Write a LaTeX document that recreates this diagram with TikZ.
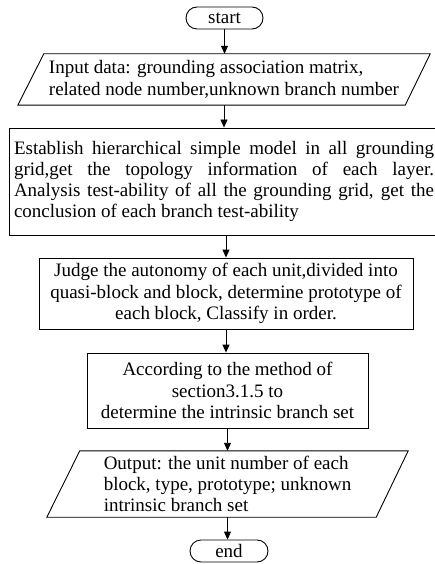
\documentclass[tikz,border=0pt]{standalone}
\usepackage{fontspec}
\setmainfont{Liberation Serif}
\usetikzlibrary{arrows.meta}
\begin{document}
\begin{tikzpicture}[x=1pt,y=1pt,
  every node/.style={font=\fontsize{19}{21.3}\selectfont, inner sep=0pt},
  box/.style={draw, line width=0.9pt, align=center},
  term/.style={draw, line width=0.9pt, rounded corners=11pt,
               minimum width=77pt, minimum height=22pt},
  io/.style={align=left},
  outline/.style={line width=0.9pt},
  flow/.style={-{Triangle[length=8pt,width=7pt]}, line width=0.9pt}
]
\useasboundingbox (0,0) rectangle (435,-564);

% terminals
\node[term] (start) at (224.5,-18) {start};
\node[term, minimum width=78pt] (end) at (229,-551) {end};

% input parallelogram
\node[io, minimum width=412pt, minimum height=51pt] (in) at (224,-79.5)
  {Input data: grounding association matrix,\\related node number,unknown branch number};
\draw[outline] (in.south west) -- ([xshift=26pt]in.north west) -- (in.north east)
  -- ([xshift=-25pt]in.south east) -- cycle;

% processing steps
\node[box, minimum width=430pt, minimum height=107pt] (model) at (224,-181.5)
  {\makebox[420pt][s]{Establish hierarchical simple model in all grounding}\\
   \makebox[420pt][s]{grid,get the topology information of each layer.}\\
   \makebox[420pt][s]{Analysis test-ability of all the grounding grid, get the}\\
   \makebox[420pt][l]{conclusion of each branch test-ability}};

\node[box, minimum width=374pt, minimum height=71pt] (judge) at (226,-293.5)
  {Judge the autonomy of each unit,divided into\\
   quasi-block and block, determine prototype of\\
   each block, Classify in order.};

\node[box, minimum width=281pt, minimum height=75pt] (method) at (227.5,-390.5)
  {According to the method of\\section3.1.5 to\\determine the intrinsic branch set};

% output parallelogram
\node[io, minimum width=361pt, minimum height=66pt] (out) at (227.5,-484)
  {Output: the unit number of each\\block, type, prototype; unknown\\intrinsic branch set};
\draw[outline] (out.south west) -- ([xshift=33pt]out.north west) -- (out.north east)
  -- ([xshift=-32pt]out.south east) -- cycle;

% connectors
\draw[flow] (start.south) -- (start.south |- in.north);
\draw[flow] (in.south) -- (in.south |- model.north);
\draw[flow] (model.south -| judge.north) -- (judge.north);
\draw[flow] (judge.south) -- (judge.south |- method.north);
\draw[flow] (method.south) -- (method.south |- out.north);
\draw[flow] (out.south) -- (out.south |- end.north);
\end{tikzpicture}
\end{document}
